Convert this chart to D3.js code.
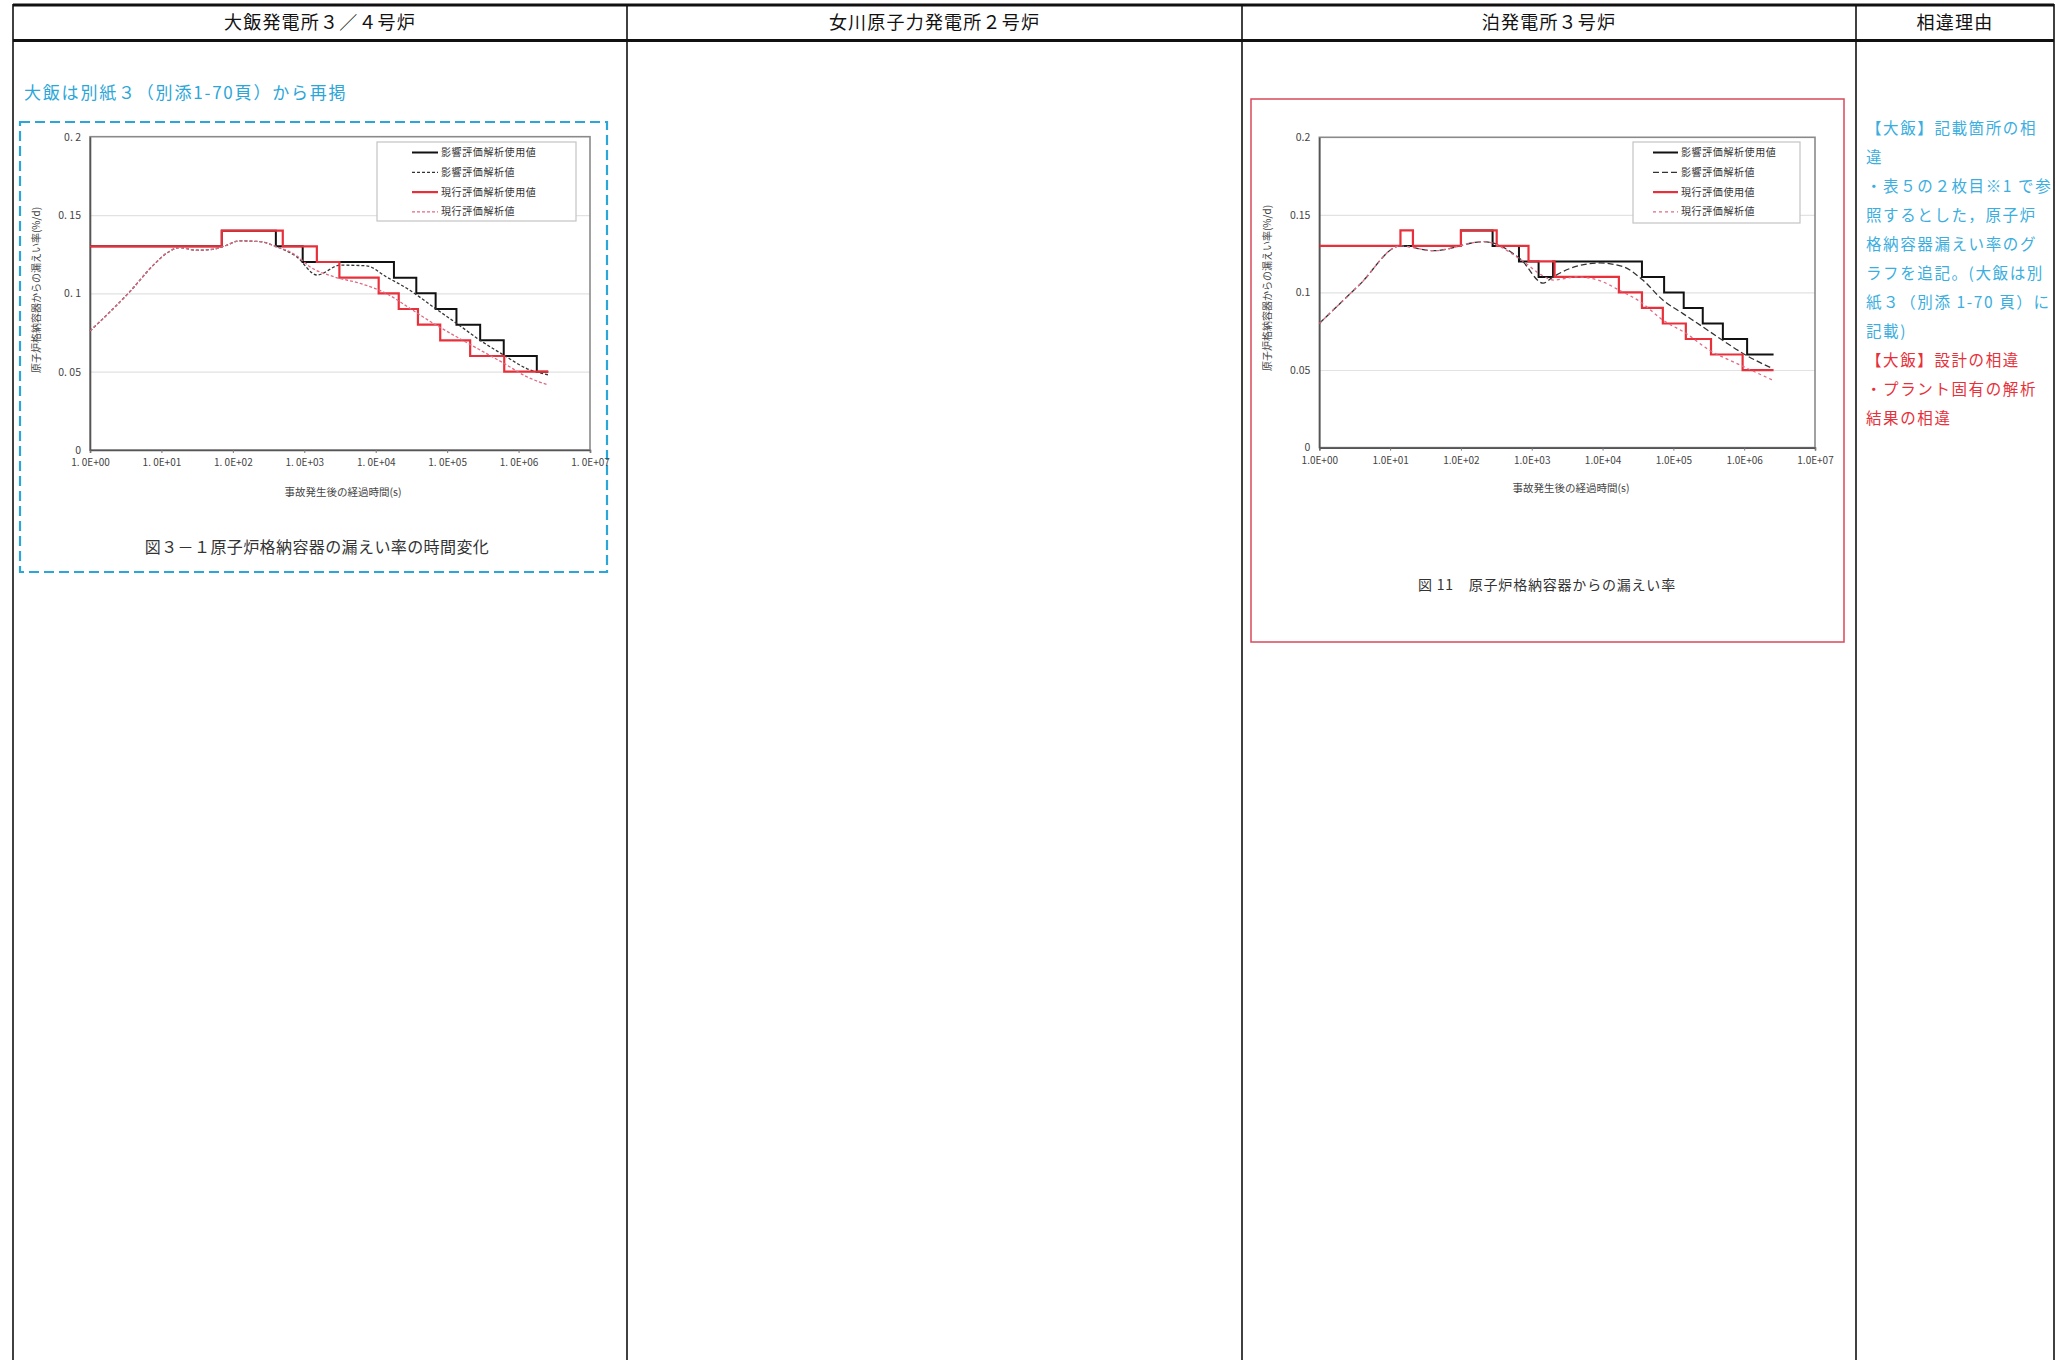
<!DOCTYPE html>
<html>
<head>
<meta charset="utf-8">
<script src="https://cdn.jsdelivr.net/npm/d3@7"></script>
<style>
  body { margin: 0; background: #fff; }
  text { font-family: "Noto Sans CJK JP", sans-serif; }
</style>
</head>
<body>
<svg id="page" width="2060" height="1360"></svg>
<script>
// ---- data ----
const headers = ["大飯発電所３／４号炉", "女川原子力発電所２号炉", "泊発電所３号炉", "相違理由"];

const ohiNote = "大飯は別紙３（別添1-70頁）から再掲";
const ohiCaption = "図３－１原子炉格納容器の漏えい率の時間変化";
const tomariCaption = "図 11　原子炉格納容器からの漏えい率";
const xTitle = "事故発生後の経過時間(s)";
const yTitle = "原子炉格納容器からの漏えい率(%/d)";

const legendOhi = ["影響評価解析使用値", "影響評価解析値", "現行評価解析使用値", "現行評価解析値"];
const legendTomari = ["影響評価解析使用値", "影響評価解析値", "現行評価使用値", "現行評価解析値"];

const xTickValues = [1, 1e1, 1e2, 1e3, 1e4, 1e5, 1e6, 1e7];
const xTickLabelsOhi = ["1. 0E+00", "1. 0E+01", "1. 0E+02", "1. 0E+03", "1. 0E+04", "1. 0E+05", "1. 0E+06", "1. 0E+07"];
const xTickLabelsTomari = ["1.0E+00", "1.0E+01", "1.0E+02", "1.0E+03", "1.0E+04", "1.0E+05", "1.0E+06", "1.0E+07"];
const yTickValues = [0, 0.05, 0.1, 0.15, 0.2];
const yTickLabelsOhi = ["0", "0. 05", "0. 1", "0. 15", "0. 2"];
const yTickLabelsTomari = ["0", "0.05", "0.1", "0.15", "0.2"];

// Ohi: [time (s), leak rate (%/d)]
const ohiBlackStep = [[1,0.13],[70,0.14],[400,0.13],[950,0.12],[18000,0.11],[37000,0.10],[69000,0.09],
  [135000,0.08],[290000,0.07],[620000,0.06],[1800000,0.05],[2600000,0.05]];
const ohiBlackCurve = [[1,0.076],[1.7,0.086],[3.6,0.101],[7.7,0.118],[12,0.1258],[18,0.1292],[31,0.1275],
  [54,0.1282],[74,0.130],[126,0.1335],[240,0.1330],[410,0.1298],[780,0.1234],[1500,0.1117],[3200,0.118],
  [7400,0.1176],[14000,0.1106],[30000,0.102],[63000,0.0915],[135000,0.0809],[290000,0.070],[620000,0.0606],
  [1300000,0.052],[2600000,0.048]];
const ohiRedStep = [[1,0.13],[70,0.14],[500,0.13],[1500,0.12],[3100,0.11],[11000,0.10],[21000,0.09],
  [39000,0.08],[80000,0.07],[210000,0.06],[630000,0.05],[2600000,0.05]];
const ohiRedCurve = [[1,0.076],[1.7,0.086],[3.6,0.101],[7.7,0.118],[12,0.1258],[18,0.1292],[31,0.1275],
  [54,0.1282],[74,0.130],[126,0.1335],[240,0.1330],[410,0.1298],[780,0.124],[1200,0.117],[2600,0.1106],
  [6000,0.1064],[14000,0.100],[30000,0.0905],[63000,0.081],[135000,0.0723],[290000,0.0638],[620000,0.0554],
  [1300000,0.0468],[2600000,0.0415]];

// Tomari
const tomariBlackStep = [[1,0.13],[100,0.14],[280,0.13],[660,0.12],[1250,0.11],[2000,0.12],[36000,0.11],
  [74000,0.10],[140000,0.09],[260000,0.08],[500000,0.07],[1100000,0.06],[2600000,0.06]];
const tomariBlackCurve = [[1,0.080],[3.7,0.105],[14,0.130],[41,0.1269],[210,0.1327],[710,0.121],[1450,0.106],[2000,0.110],
  [3500,0.1155],[9100,0.119],[19500,0.1166],[37000,0.108],[71000,0.0951],[135000,0.0865],[257000,0.078],
  [490000,0.0693],[1050000,0.0597],[2500000,0.051]];
const tomariRedStep = [[1,0.13],[14,0.14],[21,0.13],[100,0.14],[320,0.13],[900,0.12],[2100,0.11],[17000,0.10],
  [36000,0.09],[71000,0.08],[150000,0.07],[340000,0.06],[950000,0.05],[2600000,0.05]];
const tomariRedCurve = [[1,0.080],[3.7,0.105],[14,0.130],[41,0.1269],[210,0.1327],[710,0.121],[1400,0.111],[2000,0.108],
  [4300,0.110],[9100,0.1076],[17000,0.1016],[34000,0.094],[71000,0.0822],[150000,0.0737],[320000,0.0629],
  [780000,0.0543],[2500000,0.0436]];

const reasonBlue = ["【大飯】記載箇所の相", "違", "・表５の２枚目※1 で参", "照するとした，原子炉",
  "格納容器漏えい率のグ", "ラフを追記。(大飯は別", "紙３（別添 1-70 頁）に", "記載)"];
const reasonRed = ["【大飯】設計の相違", "・プラント固有の解析", "結果の相違"];

// ---- page ----
const svg = d3.select("#page");
const cols = [13, 627, 1242, 1856, 2054];
const blue = "#2ba6d9", red = "#e8303a";

// table frame
svg.append("g").selectAll("line").data(cols).join("line")
  .attr("x1", d => d).attr("x2", d => d).attr("y1", 4).attr("y2", 1360)
  .attr("stroke", "#111").attr("stroke-width", 1.6);
svg.append("line").attr("x1", 13).attr("x2", 2054).attr("y1", 5).attr("y2", 5)
  .attr("stroke", "#111").attr("stroke-width", 3);
svg.append("line").attr("x1", 13).attr("x2", 2054).attr("y1", 40.5).attr("y2", 40.5)
  .attr("stroke", "#111").attr("stroke-width", 3);
svg.append("g").selectAll("text").data(headers).join("text")
  .attr("x", (d, i) => (cols[i] + cols[i + 1]) / 2).attr("y", 29)
  .attr("text-anchor", "middle").attr("font-size", 18).attr("letter-spacing", 1.2)
  .attr("fill", "#111").text(d => d);

// Ohi note + dashed frame
svg.append("text").attr("x", 24).attr("y", 99).attr("font-size", 17).attr("letter-spacing", 1.8)
  .attr("fill", blue).text(ohiNote);
svg.append("rect").attr("x", 20).attr("y", 122).attr("width", 587).attr("height", 450)
  .attr("fill", "none").attr("stroke", blue).attr("stroke-width", 2.2).attr("stroke-dasharray", "10,5");

// Tomari red frame
svg.append("rect").attr("x", 1251).attr("y", 99).attr("width", 593).attr("height", 543)
  .attr("fill", "none").attr("stroke", "#d9485a").attr("stroke-width", 1.5);

function drawChart(o) {
  const g = svg.append("g");
  const x = d3.scaleLog().domain([1, 1e7]).range([o.x0, o.x1]);
  const y = d3.scaleLinear().domain([0, 0.2]).range([o.y1, o.y0]);

  // grid
  g.append("g").attr("transform", `translate(${o.x0},0)`)
    .call(d3.axisLeft(y).tickValues([0.05, 0.1, 0.15]).tickSize(-(o.x1 - o.x0)).tickFormat(""))
    .call(s => s.select(".domain").remove())
    .call(s => s.selectAll("line").attr("stroke", "#e2e2e2").attr("stroke-width", 1.2));

  // plot frame
  g.append("rect").attr("x", o.x0).attr("y", o.y0).attr("width", o.x1 - o.x0).attr("height", o.y1 - o.y0)
    .attr("fill", "none").attr("stroke", "#8a8a8a").attr("stroke-width", 1.6);

  // axes
  g.append("g").attr("transform", `translate(0,${o.y1})`)
    .call(d3.axisBottom(x).tickValues(xTickValues).tickFormat((d, i) => o.xLabels[i]).tickSize(3).tickPadding(6))
    .call(s => s.select(".domain").attr("stroke", "#555").attr("stroke-width", 1.6))
    .call(s => s.selectAll("line").attr("stroke", "#777"))
    .call(s => s.selectAll("text").attr("font-family", "Liberation Serif").attr("font-size", 10).attr("fill", "#444"));
  g.append("g").attr("transform", `translate(${o.x0},0)`)
    .call(d3.axisLeft(y).tickValues(yTickValues).tickFormat((d, i) => o.yLabels[i]).tickSize(0).tickPadding(9))
    .call(s => s.select(".domain").attr("stroke", "#555").attr("stroke-width", 1.6))
    .call(s => s.selectAll("text").attr("font-family", "Liberation Serif").attr("font-size", 10.5).attr("fill", "#444"));

  const step = d3.line().x(d => x(d[0])).y(d => y(d[1])).curve(d3.curveStepAfter);
  const smooth = d3.line().x(d => x(d[0])).y(d => y(d[1])).curve(d3.curveMonotoneX);

  const series = [
    { data: o.blackStep, gen: step, ...o.styles[0] },
    { data: o.blackCurve, gen: smooth, ...o.styles[1] },
    { data: o.redStep, gen: step, ...o.styles[2] },
    { data: o.redCurve, gen: smooth, ...o.styles[3] }
  ];
  g.append("g").selectAll("path").data(series).join("path")
    .attr("d", d => d.gen(d.data)).attr("fill", "none")
    .attr("stroke", d => d.color).attr("stroke-width", d => d.width)
    .attr("stroke-dasharray", d => d.dash || null);

  // legend
  const lg = g.append("g");
  lg.append("rect").attr("x", o.legend.x).attr("y", o.legend.y).attr("width", o.legend.w).attr("height", o.legend.h)
    .attr("fill", "#fff").attr("stroke", "#c4c4c4").attr("stroke-width", 1.2);
  const rows = lg.selectAll("g").data(o.legendLabels).join("g")
    .attr("transform", (d, i) => `translate(0,${o.legend.y + 10.5 + i * 19.8})`);
  rows.append("line").attr("x1", o.legend.lx0).attr("x2", o.legend.lx1)
    .attr("stroke", (d, i) => o.styles[i].color).attr("stroke-width", (d, i) => o.styles[i].width)
    .attr("stroke-dasharray", (d, i) => o.styles[i].dash || null);
  rows.append("text").attr("x", o.legend.lx1 + 3).attr("y", 3.5).attr("font-size", 10)
    .attr("letter-spacing", 0.6).attr("fill", "#333").text(d => d);

  // titles
  g.append("text").attr("x", o.xTitle[0]).attr("y", o.xTitle[1]).attr("text-anchor", "middle")
    .attr("font-size", 10.5).attr("fill", "#444").text(xTitle);
  g.append("text").attr("transform", `translate(${o.yTitle[0]},${o.yTitle[1]}) rotate(-90)`)
    .attr("text-anchor", "middle").attr("font-size", 10).attr("fill", "#444").text(yTitle);
  g.append("text").attr("x", o.caption[0]).attr("y", o.caption[1]).attr("text-anchor", "middle")
    .attr("font-size", o.caption[2]).attr("letter-spacing", o.caption[3]).attr("fill", "#333").text(o.captionText);
}

drawChart({
  x0: 90, x1: 590, y0: 136.7, y1: 450,
  xLabels: xTickLabelsOhi, yLabels: yTickLabelsOhi,
  blackStep: ohiBlackStep, blackCurve: ohiBlackCurve, redStep: ohiRedStep, redCurve: ohiRedCurve,
  styles: [
    { color: "#111", width: 2 },
    { color: "#333", width: 1.3, dash: "3,2" },
    { color: red, width: 2.2 },
    { color: "#e06a84", width: 1.3, dash: "3,2" }
  ],
  legend: { x: 377, y: 142, w: 199, h: 79, lx0: 412, lx1: 438 },
  legendLabels: legendOhi,
  xTitle: [343, 496], yTitle: [40, 290],
  caption: [317, 553, 16, 0.4], captionText: ohiCaption
});

drawChart({
  x0: 1319.3, x1: 1815, y0: 137.3, y1: 447.6,
  xLabels: xTickLabelsTomari, yLabels: yTickLabelsTomari,
  blackStep: tomariBlackStep, blackCurve: tomariBlackCurve, redStep: tomariRedStep, redCurve: tomariRedCurve,
  styles: [
    { color: "#111", width: 2 },
    { color: "#333", width: 1.3, dash: "6,3" },
    { color: red, width: 2.2 },
    { color: "#e06a84", width: 1.3, dash: "3,3" }
  ],
  legend: { x: 1633, y: 142, w: 167, h: 81, lx0: 1653, lx1: 1678 },
  legendLabels: legendTomari,
  xTitle: [1571, 492], yTitle: [1271, 288],
  caption: [1547, 590, 14, 0.8], captionText: tomariCaption
});

// reasons column
const reasons = reasonBlue.map(t => ({ t, c: "#3aaee0" })).concat(reasonRed.map(t => ({ t, c: red })));
svg.append("g").selectAll("text").data(reasons).join("text")
  .attr("x", 1866).attr("y", (d, i) => 134 + i * 29)
  .attr("font-size", 15.5).attr("letter-spacing", 1.6).attr("fill", d => d.c).text(d => d.t);
</script>
</body>
</html>
